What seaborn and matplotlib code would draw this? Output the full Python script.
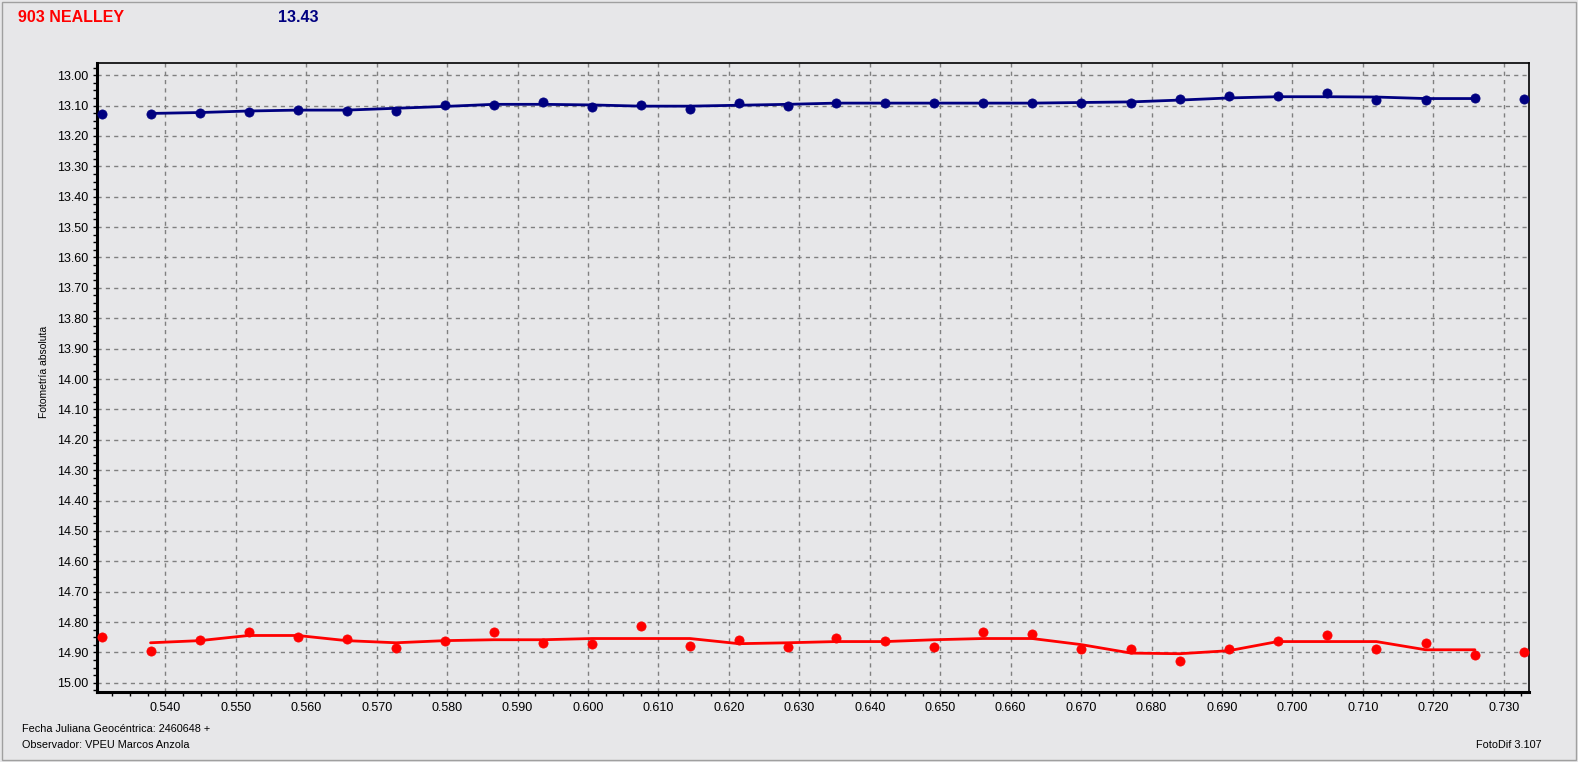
import numpy as np
import pandas as pd
import matplotlib
matplotlib.use("Agg")
import matplotlib.pyplot as plt
from matplotlib.ticker import MultipleLocator, FormatStrFormatter
from matplotlib.patches import Rectangle
import seaborn as sns

# ---------------- data ----------------
jd = [0.53094, 0.53790, 0.54486, 0.55182, 0.55878, 0.56574, 0.57275, 0.57966,
      0.58663, 0.59359, 0.60055, 0.60751, 0.61447, 0.62143, 0.62839, 0.63521,
      0.64222, 0.64918, 0.65610, 0.66306, 0.67000, 0.67710, 0.68400, 0.69100,
      0.69790, 0.70490, 0.71190, 0.71890, 0.72590, 0.73280]

blue_mag = [13.127, 13.127, 13.124, 13.121, 13.114, 13.117, 13.117, 13.098,
            13.098, 13.088, 13.105, 13.097, 13.110, 13.093, 13.100, 13.092,
            13.092, 13.092, 13.092, 13.092, 13.090, 13.090, 13.078, 13.070,
            13.070, 13.058, 13.081, 13.081, 13.074, 13.078]

red_mag = [14.848, 14.894, 14.858, 14.831, 14.848, 14.854, 14.884, 14.861,
           14.834, 14.870, 14.871, 14.814, 14.878, 14.859, 14.881, 14.851,
           14.861, 14.881, 14.834, 14.838, 14.890, 14.890, 14.928, 14.890,
           14.861, 14.841, 14.888, 14.868, 14.908, 14.898]

# smoothed curves, read at points 1..28
blue_smooth = [13.126, 13.123, 13.118, 13.115, 13.115, 13.109, 13.103, 13.096,
               13.096, 13.098, 13.102, 13.102, 13.099, 13.096, 13.092, 13.092,
               13.092, 13.092, 13.092, 13.090, 13.088, 13.082, 13.075, 13.071,
               13.071, 13.072, 13.077, 13.077]

red_smooth = [14.868, 14.861, 14.844, 14.844, 14.861, 14.868, 14.861, 14.858,
              14.858, 14.854, 14.854, 14.854, 14.871, 14.868, 14.864, 14.864,
              14.858, 14.854, 14.854, 14.874, 14.902, 14.904, 14.894, 14.864,
              14.864, 14.864, 14.891, 14.891]

title_star = "903 NEALLEY"
title_mag = "13.43"
y_label = "Fotometría absoluta"
foot1 = "Fecha Juliana Geocéntrica: 2460648 +"
foot2 = "Observador: VPEU Marcos Anzola"
foot3 = "FotoDif 3.107"

BLUE = "#000080"
RED = "#ff0000"
BG = "#e7e7e9"

pts = pd.DataFrame({"jd": jd, "blue": blue_mag, "red": red_mag})
smooth = pd.DataFrame({"jd": jd[1:29], "blue": blue_smooth, "red": red_smooth})

# ---------------- figure ----------------
sns.set_theme(style="white")
plt.rcParams["font.family"] = ["Liberation Sans", "DejaVu Sans"]

W, H = 1578, 762
fig = plt.figure(figsize=(W / 100, H / 100), dpi=100, facecolor=BG)
L, R, T, B = 97, 1529, 63, 692
ax = fig.add_axes([L / W, 1 - B / H, (R - L) / W, (B - T) / H])
ax.set_facecolor(BG)

for col, c in (("blue", BLUE), ("red", RED)):
    sns.lineplot(data=smooth, x="jd", y=col, ax=ax, color=c, linewidth=2.0,
                 sort=False, estimator=None, zorder=3)
    sns.scatterplot(data=pts, x="jd", y=col, ax=ax, color=c, s=44,
                    edgecolor=c, linewidth=0.5, zorder=4)

ax.set_xlim(0.5303, 0.73358)
ax.set_ylim(15.03, 12.96)

ax.xaxis.set_major_locator(MultipleLocator(0.01))
ax.xaxis.set_minor_locator(MultipleLocator(0.0025))
ax.yaxis.set_major_locator(MultipleLocator(0.1))
ax.yaxis.set_minor_locator(MultipleLocator(0.025))
ax.xaxis.set_major_formatter(FormatStrFormatter("%.3f"))
ax.yaxis.set_major_formatter(FormatStrFormatter("%.2f"))

ax.grid(True, which="major", color="#808080", linestyle=(0, (3, 3)), linewidth=1)
ax.tick_params(which="both", direction="out", length=3, width=1, color="black",
               labelsize=9, labelcolor="black", left=True, bottom=True)
ax.tick_params(axis="x", pad=4)
ax.tick_params(axis="y", pad=3)

for side in ("left", "bottom"):
    ax.spines[side].set_linewidth(2.2)
for side in ("top", "right"):
    ax.spines[side].set_linewidth(1.2)
for s in ax.spines.values():
    s.set_color("black")

ax.set_xlabel("")
ax.set_ylabel("")

fig.text(44 / W, 1 - 372 / H, y_label, rotation=90, fontsize=7.5,
         ha="center", va="center", color="black")

fig.text(18 / W, 1 - 18 / H, title_star, color=RED, fontsize=11.5,
         fontweight="bold", ha="left", va="center")
fig.text(278 / W, 1 - 18 / H, title_mag, color=BLUE, fontsize=11.5,
         fontweight="bold", ha="left", va="center")

fig.text(22 / W, 1 - 729 / H, foot1, fontsize=7.8, ha="left", va="center", color="black")
fig.text(22 / W, 1 - 745 / H, foot2, fontsize=7.8, ha="left", va="center", color="black")
fig.text(1542 / W, 1 - 745 / H, foot3, fontsize=7.8, ha="right", va="center", color="black")

fig.patches.append(Rectangle((1.5 / W, 2 / H), (W - 4) / W, (H - 3.5) / H,
                             transform=fig.transFigure, fill=False,
                             edgecolor="#a0a0a0", linewidth=1))

fig.savefig("out.png", dpi=100, facecolor=BG)
